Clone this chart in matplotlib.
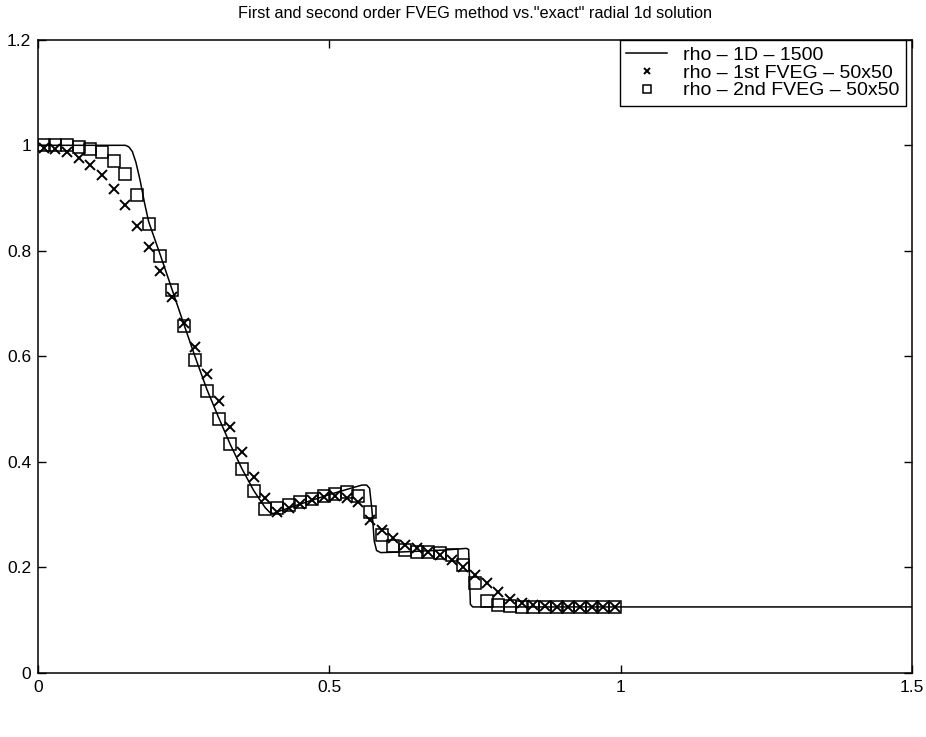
import numpy as np
import matplotlib
matplotlib.use('Agg')
import matplotlib.pyplot as plt

plt.rcParams['font.family'] = ['Liberation Sans', 'DejaVu Sans']

# cell centres of the 50x50 mesh (radial cut)
x_cells = [0.01, 0.03, 0.05, 0.07, 0.09, 0.11, 0.13, 0.15, 0.17, 0.19,
           0.21, 0.23, 0.25, 0.27, 0.29, 0.31, 0.33, 0.35, 0.37, 0.39,
           0.41, 0.43, 0.45, 0.47, 0.49, 0.51, 0.53, 0.55, 0.57, 0.59,
           0.61, 0.63, 0.65, 0.67, 0.69, 0.71, 0.73, 0.75, 0.77, 0.79,
           0.81, 0.83, 0.85, 0.87, 0.89, 0.91, 0.93, 0.95, 0.97, 0.99]

# 1st order FVEG
rho_1st = [0.995, 0.993, 0.987, 0.976, 0.962, 0.943, 0.918, 0.886, 0.848, 0.808,
           0.762, 0.712, 0.664, 0.617, 0.566, 0.516, 0.466, 0.418, 0.372, 0.332,
           0.304, 0.313, 0.320, 0.327, 0.333, 0.335, 0.332, 0.324, 0.290, 0.270,
           0.255, 0.243, 0.237, 0.230, 0.224, 0.214, 0.200, 0.185, 0.170, 0.153,
           0.140, 0.132, 0.128, 0.126, 0.125, 0.125, 0.125, 0.125, 0.125, 0.125]

# 2nd order FVEG
rho_2nd = [1.000, 1.000, 1.000, 0.997, 0.993, 0.987, 0.971, 0.945, 0.905, 0.851,
           0.791, 0.725, 0.658, 0.593, 0.535, 0.482, 0.433, 0.386, 0.344, 0.310,
           0.312, 0.318, 0.324, 0.330, 0.336, 0.340, 0.342, 0.335, 0.305, 0.262,
           0.240, 0.232, 0.230, 0.230, 0.228, 0.224, 0.205, 0.170, 0.136, 0.128,
           0.126, 0.125, 0.125, 0.125, 0.125, 0.125, 0.125, 0.125, 0.125, 0.125]

# "exact" 1d radial solution (1500 cells)
x_1d = [0.0, 0.150, 0.156, 0.162, 0.168, 0.175, 0.183, 0.19, 0.21, 0.23,
        0.25, 0.27, 0.29, 0.31, 0.33, 0.35, 0.37, 0.39, 0.398, 0.404,
        0.41, 0.45, 0.50, 0.54, 0.556, 0.564, 0.569, 0.573, 0.577, 0.581,
        0.588, 0.62, 0.66, 0.70, 0.735, 0.739, 0.742, 0.746, 1.5]
rho_1d = [1.0, 1.0, 0.997, 0.988, 0.968, 0.935, 0.89, 0.855, 0.792, 0.727,
          0.662, 0.598, 0.537, 0.484, 0.433, 0.387, 0.346, 0.313, 0.304, 0.302,
          0.305, 0.320, 0.338, 0.351, 0.356, 0.356, 0.350, 0.31, 0.25, 0.232,
          0.228, 0.229, 0.231, 0.233, 0.236, 0.234, 0.13, 0.125, 0.125]

fig = plt.figure(figsize=(9.26, 7.37), dpi=100)
ax = fig.add_axes([0.041, 0.087, 0.944, 0.859])

ax.plot(x_1d, rho_1d, 'k-', lw=1.1, label='rho \u2013 1D \u2013 1500')
ax.plot(x_cells, rho_1st, 'kx', ms=7, mew=1.4, label='rho \u2013 1st FVEG \u2013 50x50')
ax.plot(x_cells, rho_2nd, 'ks', ms=8.2, mfc='none', mew=1.1, label='rho \u2013 2nd FVEG \u2013 50x50')

ax.set_xlim(0, 1.5)
ax.set_ylim(0, 1.2)
ax.set_xticks([0, 0.5, 1, 1.5])
ax.set_xticklabels(['0', '0.5', '1', '1.5'])
ax.set_yticks([0, 0.2, 0.4, 0.6, 0.8, 1, 1.2])
ax.set_yticklabels(['0', '0.2', '0.4', '0.6', '0.8', '1', '1.2'])
ax.tick_params(direction='in', top=True, right=True, length=6, width=1,
               labelsize=12.5, pad=5)
for s in ax.spines.values():
    s.set_linewidth(1.1)

ax.set_title('First and second order FVEG method vs."exact" radial 1d solution',
             fontsize=11.7, pad=16)

leg = ax.legend(loc='upper right', bbox_to_anchor=(0.993, 1.0), borderaxespad=0,
                fontsize=14, frameon=True, fancybox=False, edgecolor='k',
                framealpha=1, handlelength=2.1, handletextpad=0.8,
                labelspacing=0.0, borderpad=0.35, markerscale=0.7)
leg.get_frame().set_linewidth(1.0)

plt.savefig('out.png', dpi=100)
